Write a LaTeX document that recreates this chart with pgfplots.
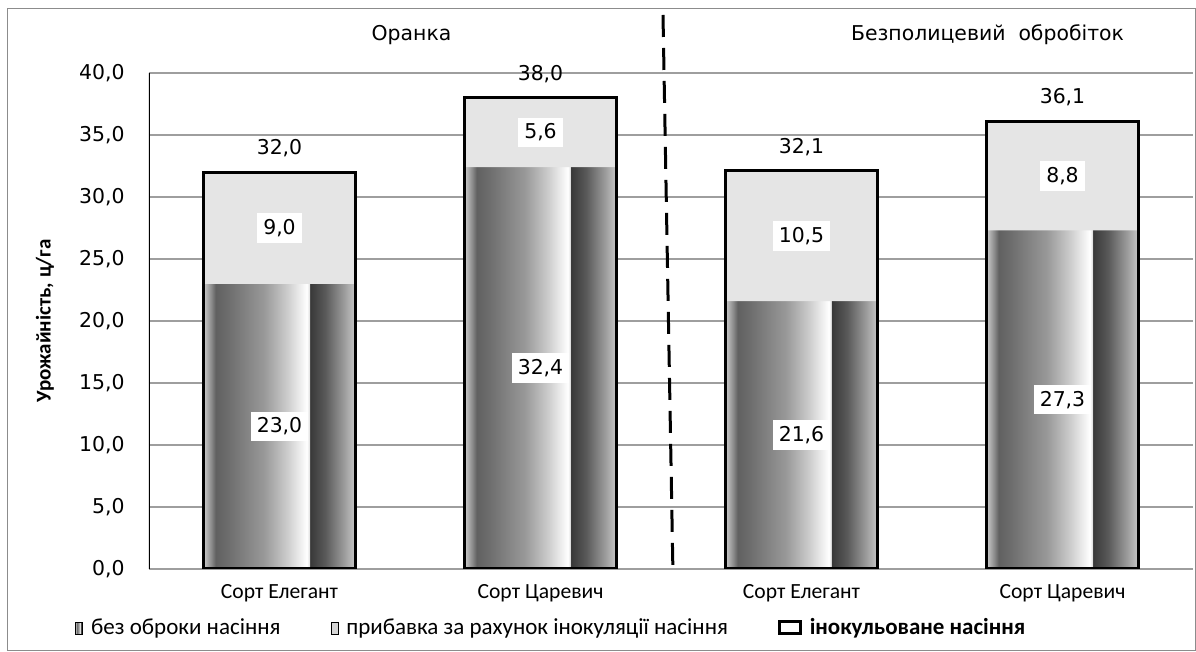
\documentclass[border=0pt]{standalone}
\usepackage{fontspec}
\setmainfont{DejaVu Sans}
\newfontfamily\calfont{Carlito}
\usepackage{pgfplots}
\usepackage{pgfplotstable}
\pgfplotsset{compat=1.18}
\pgfdeclarehorizontalshading{metal}{100bp}{color(0bp)=(black!20); color(25bp)=(black!20); color(27.5bp)=(black!45); color(29bp)=(black!62); color(32.5bp)=(black!58); color(45bp)=(black!40); color(52.5bp)=(black!20); color(59bp)=(white); color(59.75bp)=(black!10); color(60bp)=(black!78); color(65bp)=(black!65); color(71bp)=(black!40); color(75bp)=(black!22); color(100bp)=(black!22)}

\pgfplotstableread{
x base inc total
0 23.0 9.0 32.0
1 32.4 5.6 38.0
2 21.6 10.5 32.1
3 27.3 8.8 36.1
}\yield

\begin{document}
\begin{tikzpicture}
\useasboundingbox (0,0) rectangle (598pt,326pt);
\draw[black!45, line width=0.5pt] (3.5pt,0.5pt) rectangle (597.5pt,321.5pt);
\pgfplotsset{common/.style={at={(74.5pt,41.5pt)}, anchor=south west, x=130.5pt, y=6.2pt,
  xmin=-0.5, xmax=3.5, ymin=0, ymax=40, enlargelimits=false,
  /pgf/number format/.cd, fixed, fixed zerofill, precision=1, use comma, assume math mode=true},
  metalbar/.style={shade, shading=metal, draw=none, bar shift=0pt, forget plot}}
% main axis: grid, ticks, labels, legend, shaded base bars
\begin{axis}[common, ybar, bar width=76pt,
  axis line style={draw=none}, major tick length=0pt,
  ymajorgrids, grid style={black!38, line width=0.6pt},
  ytick={0,5,...,40}, xtick={0,1,2,3},
  xticklabels={Сорт Елегант,Сорт Царевич,Сорт Елегант,Сорт Царевич},
  xticklabel style={font=\calfont\fontsize{10.8}{12}\selectfont, anchor=center, yshift=-12pt},
  yticklabel style={font=\fontsize{10.2}{12}\selectfont, anchor=east, inner sep=0pt, xshift=-12pt},
  ylabel={Урожайність, ц/га},
  ylabel style={font=\calfont\bfseries\fontsize{10.5}{12}\selectfont, at={(axis description cs:-0.0996,0.5)}, anchor=center},
  legend image code/.code={\fill[#1] (0pt,-3pt) rectangle (3.5pt,3pt);},
  legend style={draw=none, fill=none, at={(axis description cs:-0.0709,-0.119)}, anchor=west,
    legend columns=3, font=\calfont\fontsize{11.5}{13}\selectfont, inner sep=0pt,
    /tikz/every odd column/.append style={column sep=2pt},
    /tikz/every even column/.append style={column sep=23pt}},
]
\addplot[metalbar, restrict x to domain=-0.2:0.2] table[x=x, y=base]{\yield};
\addplot[metalbar, restrict x to domain=0.8:1.2] table[x=x, y=base]{\yield};
\addplot[metalbar, restrict x to domain=1.8:2.2] table[x=x, y=base]{\yield};
\addplot[metalbar, restrict x to domain=2.8:3.2] table[x=x, y=base]{\yield};
\addlegendimage{shade, shading=metal}
\addlegendentry{без оброки насіння}
\addlegendimage{fill=black!16}
\addlegendentry{прибавка за рахунок інокуляції насіння}
\addlegendimage{legend image code/.code={\draw[black, line width=1.4pt] (0pt,-2.8pt) rectangle (10.5pt,3.2pt);}}
\addlegendentry{\textbf{інокульоване насіння}}
\draw[black, line width=1pt] (rel axis cs:0,0) -- (rel axis cs:0,1);
\end{axis}
% stacked axis: increments and segment labels
\begin{axis}[common, hide axis, ybar stacked, bar width=76pt,
  nodes near coords,
  nodes near coords style={font=\fontsize{10.2}{12}\selectfont, fill=white, inner sep=3pt, anchor=center}]
\addplot[fill=none, draw=none] table[x=x, y=base, meta=base]{\yield};
\addplot[fill=black!10, draw=none] table[x=x, y=inc, meta=inc]{\yield};
\end{axis}
% outline axis: totals
\begin{axis}[common, hide axis, ybar, bar width=76pt,
  nodes near coords,
  nodes near coords style={font=\fontsize{10.2}{12}\selectfont, anchor=center, yshift=12pt}]
\addplot[draw=black, line width=1.5pt, fill=none] table[x=x, y=total]{\yield};
\end{axis}
\node[font=\fontsize{10.2}{12}\selectfont] at (205.75pt,308.5pt) {Оранка};
\node[font=\fontsize{10.2}{12}\selectfont] at (493.75pt,308.5pt) {Безполицевий\ \ обробіток};
\draw[black, line width=1.5pt, dash pattern=on 11pt off 5.5pt] (331.5pt,318.5pt) -- (336.5pt,38.5pt);
\end{tikzpicture}
\end{document}
